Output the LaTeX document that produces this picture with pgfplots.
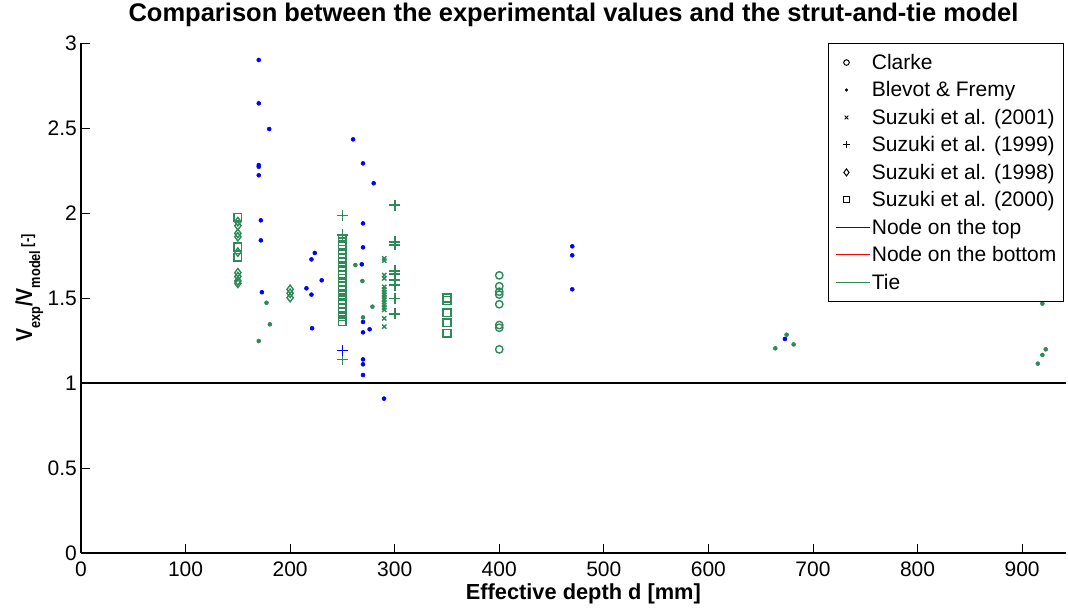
\documentclass[border=0pt]{standalone}
\usepackage{fontspec}
\setmainfont{Liberation Sans}
\usepackage{pgfplots}
\pgfplotsset{compat=1.18}
\definecolor{mygreen}{RGB}{46,139,87}
\newcommand{\sub}[1]{\raisebox{-8pt}{\fontsize{15}{15}\selectfont\bfseries #1}}
\pgfplotsset{
  markleg/.style={legend image code/.code={\path[draw=none,fill=none] (0pt,0pt) (34pt,0pt); \draw[##1] plot coordinates {(12pt,0pt)};}},
  lineleg/.style={legend image code/.code={\draw[##1] (2pt,0pt) -- (36pt,0pt);}}
}
\begin{document}
\begin{tikzpicture}
\path[use as bounding box] (0,0) rectangle (1068pt,610pt);
\begin{axis}[
  at={(81pt,57pt)}, anchor=south west,
  scale only axis, width=985pt, height=510pt,
  xmin=0, xmax=942, ymin=0, ymax=3,
  axis x line*=bottom, axis y line*=left,
  axis line style={line width=1.2pt, black},
  xtick={0,100,...,900}, ytick={0,0.5,1,1.5,2,2.5,3},
  tick align=inside, major tick length=9pt,
  tick style={black, line width=0.8pt},
  /pgf/number format/assume math mode=true,
  ticklabel style={font=\fontsize{21}{21}\selectfont},
  yticklabel style={anchor=east, inner sep=0pt, xshift=-4pt},
  xticklabel style={anchor=north, inner sep=0pt, yshift=-9pt},
  title={Comparison between the experimental values and the strut-and-tie model},
  title style={font=\bfseries\fontsize{25.5}{25.5}\selectfont, anchor=base, at={(axis description cs:0.5,1)}, yshift=15pt},
  xlabel={Effective depth d [mm]},
  xlabel style={font=\bfseries\fontsize{21.8}{21.8}\selectfont, anchor=base, at={(axis description cs:0.51,0)}, yshift=-47pt},
  ylabel={\scalebox{0.85}[1]{\bfseries V\sub{exp}/V\sub{model}\,{\fontsize{15}{15}\selectfont[-]}}},
  ylabel style={font=\fontsize{23}{23}\selectfont, at={(axis description cs:-0.0497,0.5196)}, anchor=base, inner sep=0pt},
  clip=false,
  legend cell align=left,
  legend style={at={(rel axis cs:0.9975,1)}, anchor=north east, draw=black, fill=white,
    font=\fontsize{21}{21}\selectfont, inner xsep=6pt, inner ysep=10pt, row sep=8.75pt,
    nodes={inner sep=1pt}},
]
% reference line
\addplot[black, line width=1.5pt, no marks, sharp plot, forget plot] coordinates {(0,1) (942,1)};

% Blevot & Fremy - node on the top (blue dots)
\addplot[blue, only marks, mark=*, mark size=2pt, mark options={solid, line width=0.5pt}, forget plot] coordinates {
(170,2.900) (170,2.645) (180,2.494) (170,2.282) (170,2.272) (170,2.222) (172,1.957) (172,1.839) (173,1.534)
(223.6,1.765) (220.4,1.727) (230.2,1.604) (215.6,1.557) (220.4,1.520) (221,1.322)
(260.2,2.433) (269.7,2.292) (279.9,2.175) (269.7,1.939) (269.7,1.798) (268.5,1.698) (269.7,1.359) (276,1.316) (269.7,1.298)
(269.7,1.139) (269.7,1.110) (269.7,1.047) (289.8,0.908)
(469.8,1.804) (469.8,1.751) (469.8,1.551) (673.2,1.259)
};
% Blevot & Fremy - tie (green dots)
\addplot[mygreen, only marks, mark=*, mark size=2pt, mark options={solid, line width=0.5pt}, forget plot] coordinates {
(177.4,1.472) (180.6,1.345) (170,1.247) (262.4,1.694) (269.1,1.600) (278.7,1.449) (269.7,1.386)
(674.8,1.284) (681.5,1.227) (664,1.204) (919.4,1.467) (922.6,1.198) (919.4,1.165) (915,1.114)
};
% Suzuki 1999 (+)
\addplot[mygreen, only marks, mark=+, mark size=5.5pt, mark options={solid, line width=1.6pt}, forget plot] coordinates {
(250,1.986) (250,1.871) (250,1.139)
(300,2.047) (300,1.831) (300,1.812) (300,1.659) (300,1.641) (300,1.606) (300,1.576) (300,1.498) (300,1.406)
};
\addplot[blue, only marks, mark=+, mark size=5.5pt, mark options={solid, line width=1.6pt}, forget plot] coordinates {(250,1.190)};
% Suzuki 2001 (x)
\addplot[mygreen, only marks, mark=x, mark size=3pt, mark options={solid, line width=1.4pt}, forget plot] coordinates {
(290,1.733) (290,1.720) (290,1.635) (290,1.616) (290,1.566) (290,1.550) (290,1.535) (290,1.520) (290,1.505)
(290,1.490) (290,1.475) (290,1.460) (290,1.445) (290,1.430) (290,1.380) (290,1.331)
};
% Suzuki 1998 (diamond)
\addplot[mygreen, only marks, mark=diamond, mark size=4.2pt, mark options={solid, line width=1.4pt}, forget plot] coordinates {
(150,1.949) (150,1.925) (150,1.880) (150,1.860) (150,1.770) (150,1.649) (150,1.626) (150,1.600) (150,1.586)
(200,1.551) (200,1.528) (200,1.502)
};
% Suzuki 2000 (square)
\addplot[mygreen, only marks, mark=square, mark size=3.8pt, mark options={solid, line width=1.5pt}, forget plot] coordinates {
(150,1.975) (150,1.800) (150,1.740)
(250,1.851) (250,1.830) (250,1.812) (250,1.785) (250,1.760) (250,1.735) (250,1.710) (250,1.684) (250,1.660) (250,1.635)
(250,1.615) (250,1.596) (250,1.570) (250,1.547) (250,1.520) (250,1.488) (250,1.465) (250,1.439) (250,1.415) (250,1.390) (250,1.361)
(350,1.500) (350,1.485) (350,1.414) (350,1.355) (350,1.292)
};
% Clarke (circle)
\addplot[mygreen, only marks, mark=o, mark size=3.7pt, mark options={solid, line width=1.4pt}, forget plot] coordinates {
(400,1.633) (400,1.569) (400,1.537) (400,1.520) (400,1.463) (400,1.341) (400,1.325) (400,1.198)
};

% legend entries
\addlegendimage{draw=black, only marks, mark=o, mark size=2.8pt, mark options={line width=1pt}, markleg}
\addlegendentry{Clarke}
\addlegendimage{draw=black, fill=black, only marks, mark=*, mark size=1.3pt, markleg}
\addlegendentry{Blevot \& Fremy}
\addlegendimage{draw=black, only marks, mark=x, mark size=2.5pt, mark options={line width=1pt}, markleg}
\addlegendentry{Suzuki et al. (2001)}
\addlegendimage{draw=black, only marks, mark=+, mark size=3.5pt, mark options={line width=1pt}, markleg}
\addlegendentry{Suzuki et al. (1999)}
\addlegendimage{draw=black, only marks, mark=diamond, mark size=3.5pt, mark options={line width=1pt}, markleg}
\addlegendentry{Suzuki et al. (1998)}
\addlegendimage{draw=black, only marks, mark=square, mark size=3pt, mark options={line width=1pt}, markleg}
\addlegendentry{Suzuki et al. (2000)}
\addlegendimage{blue, line width=0.8pt, lineleg}
\addlegendentry{Node on the top}
\addlegendimage{red, line width=0.8pt, lineleg}
\addlegendentry{Node on the bottom}
\addlegendimage{mygreen, line width=0.8pt, lineleg}
\addlegendentry{Tie}
\end{axis}
\end{tikzpicture}
\end{document}
